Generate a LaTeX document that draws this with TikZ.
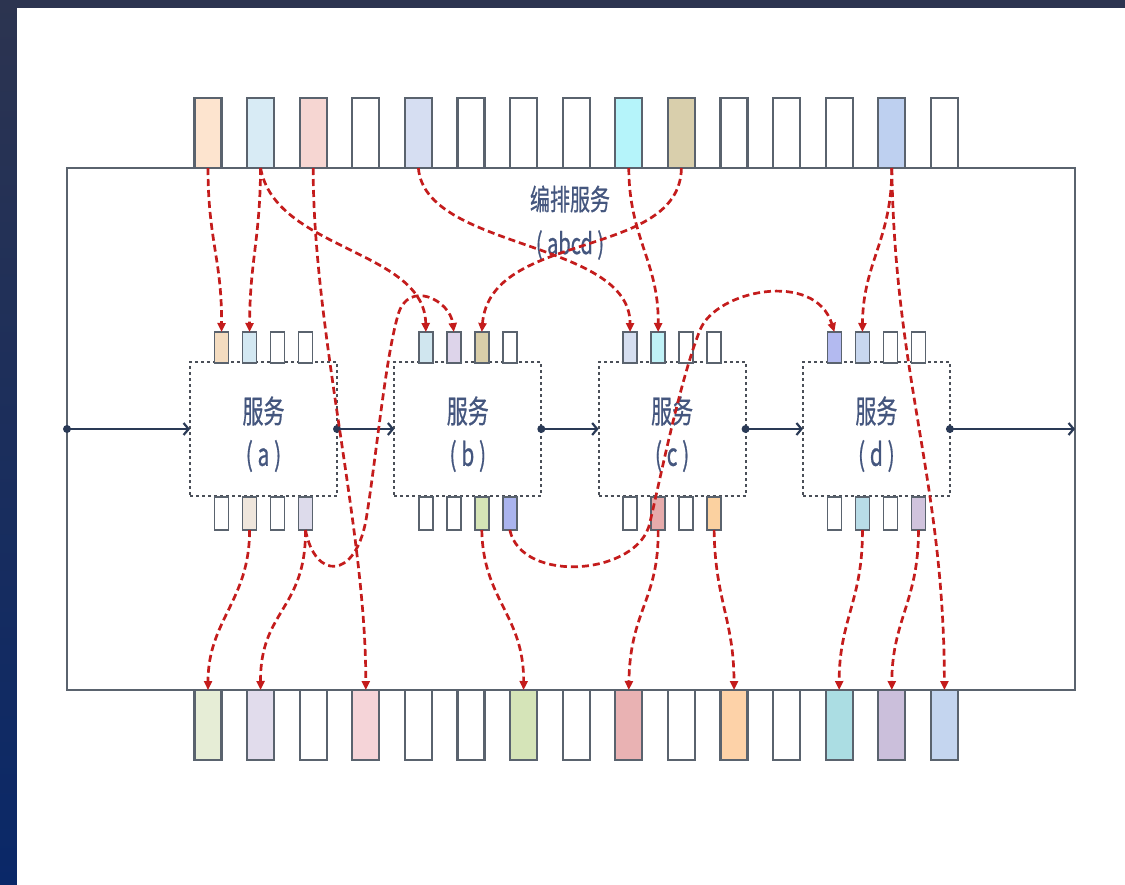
\documentclass[tikz,border=0pt]{standalone}
\usepackage{fontspec}
\usepackage{graphicx}
\newfontfamily\cjk[FakeBold=0.8]{Noto Sans CJK SC}
\usetikzlibrary{arrows.meta}
% frame / line colours
\definecolor{boxline}{HTML}{5A636E}
\definecolor{svcline}{HTML}{4A4F58}
\definecolor{frameline}{HTML}{5A636E}
\definecolor{linkred}{HTML}{C41C1C}
\definecolor{flowblue}{HTML}{2A3A56}
\definecolor{txtblue}{HTML}{44567E}
\definecolor{bgtop}{HTML}{2C3450}
\definecolor{bgbot}{HTML}{0A2868}
% top slots
\definecolor{T1c}{HTML}{FDE4CF}
\definecolor{T2c}{HTML}{D8EBF5}
\definecolor{T3c}{HTML}{F6D6D2}
\definecolor{T5c}{HTML}{D6DEF2}
\definecolor{T9c}{HTML}{B5F4FA}
\definecolor{T10c}{HTML}{D9CFAC}
\definecolor{T14c}{HTML}{BED0F0}
% bottom slots
\definecolor{B1c}{HTML}{E6EDD6}
\definecolor{B2c}{HTML}{E1DCEC}
\definecolor{B4c}{HTML}{F5D4D8}
\definecolor{B7c}{HTML}{D5E4B8}
\definecolor{B9c}{HTML}{E9B2B3}
\definecolor{B11c}{HTML}{FDD2A8}
\definecolor{B13c}{HTML}{ABDDE3}
\definecolor{B14c}{HTML}{CBBFDB}
\definecolor{B15c}{HTML}{C4D5EF}
% service ports (top P, bottom Q)
\definecolor{Pa1c}{HTML}{F4DCC0}
\definecolor{Pa2c}{HTML}{D3E8F2}
\colorlet{Pa3c}{white}
\colorlet{Pa4c}{white}
\definecolor{Pb1c}{HTML}{D0E6EF}
\definecolor{Pb2c}{HTML}{DDD4EA}
\definecolor{Pb3c}{HTML}{D9CEA9}
\colorlet{Pb4c}{white}
\definecolor{Pc1c}{HTML}{D6DFF0}
\definecolor{Pc2c}{HTML}{C0F2F7}
\colorlet{Pc3c}{white}
\colorlet{Pc4c}{white}
\definecolor{Pd1c}{HTML}{B3BAF0}
\definecolor{Pd2c}{HTML}{C8D7EF}
\colorlet{Pd3c}{white}
\colorlet{Pd4c}{white}
\colorlet{Qa1c}{white}
\definecolor{Qa2c}{HTML}{EFE6DC}
\colorlet{Qa3c}{white}
\definecolor{Qa4c}{HTML}{DDDBEB}
\colorlet{Qb1c}{white}
\colorlet{Qb2c}{white}
\definecolor{Qb3c}{HTML}{D5E4B6}
\definecolor{Qb4c}{HTML}{AAB4EE}
\colorlet{Qc1c}{white}
\definecolor{Qc2c}{HTML}{E6ABAB}
\colorlet{Qc3c}{white}
\definecolor{Qc4c}{HTML}{FBD1A0}
\colorlet{Qd1c}{white}
\definecolor{Qd2c}{HTML}{B8DCE7}
\colorlet{Qd3c}{white}
\definecolor{Qd4c}{HTML}{D0C3DD}
\begin{document}
\begin{tikzpicture}[x=1pt,y=-1pt,
  slot/.style={draw=boxline, line width=2.2pt, minimum width=27pt, minimum height=70pt, inner sep=0pt, outer sep=0pt},
  port/.style={draw=boxline, line width=1.8pt, minimum width=14pt, minimum height=31pt, inner sep=0pt, outer sep=0pt},
  bport/.style={port, minimum height=33pt},
  svc/.style={draw=svcline, line width=2pt, dash pattern=on 3pt off 3pt, minimum width=147pt, minimum height=134pt, inner sep=0pt, outer sep=0pt},
  link/.style={draw=linkred, line width=2.7pt, dash pattern=on 7pt off 4pt, -{Triangle[length=9pt,width=8pt]}},
  flow/.style={draw=flowblue, line width=2.6pt, -{Straight Barb[length=5pt,width=12pt,line width=2.2pt]}},
  lbl/.style={text=txtblue, font=\cjk\fontsize{21}{21}\selectfont, inner sep=0pt},
  tlbl/.style={text=txtblue, font=\cjk\fontsize{20}{20}\selectfont, inner sep=0pt}
]
\useasboundingbox (0,0) rectangle (1125,884);
% page border and white ground
\shade[top color=bgtop, bottom color=bgbot] (0,0) rectangle (1125,884);
\fill[white] (17,8) rectangle (1140,900);

% orchestration frame
\node[draw=frameline, line width=2pt, minimum width=1008pt, minimum height=522pt, inner sep=0pt, outer sep=0pt] (frame) at (571,429) {};

% top and bottom slots
\foreach \i/\c in {1/T1c,2/T2c,3/T3c,4/white,5/T5c,6/white,7/white,8/white,9/T9c,10/T10c,11/white,12/white,13/white,14/T14c,15/white}
  \node[slot, fill=\c] (T\i) at ({208+52.6*(\i-1)},133) {};
\foreach \i/\c in {1/B1c,2/B2c,3/white,4/B4c,5/white,6/white,7/B7c,8/white,9/B9c,10/white,11/B11c,12/white,13/B13c,14/B14c,15/B15c}
  \node[slot, fill=\c] (B\i) at ({208+52.6*(\i-1)},725) {};

% services
\foreach \s/\k in {a/0,b/1,c/2,d/3} {
  \node[svc] (S\s) at ({263.5+204.3*\k},429) {};
  \node[lbl] (N\s) at ({263.5+204.3*\k},411) {\scalebox{1}[1.5]{服务}};
  \node[lbl] (M\s) at ({263.5+204.3*\k},456) {\scalebox{1}[1.5]{( \s\ )}};
  \foreach \j/\dx in {1/-42,2/-14,3/14,4/42} {
    \node[port, fill=P\s\j c] (P\s\j) at ({263.5+204.3*\k+\dx},347.5) {};
    \node[bport, fill=Q\s\j c] (Q\s\j) at ({263.5+204.3*\k+\dx},513.5) {};
  }
}

% title
\node[tlbl] (title) at (570,199) {\scalebox{1}[1.45]{编排服务}};
\node[tlbl] (title2) at (570,245) {\scalebox{1}[1.45]{( abcd )}};

% main flow
\draw[flow] (frame.west) -- (Sa.west);
\draw[flow] (Sa.east) -- (Sb.west);
\draw[flow] (Sb.east) -- (Sc.west);
\draw[flow] (Sc.east) -- (Sd.west);
\draw[flow] (Sd.east) -- (frame.east);
\foreach \p in {frame.west, Sa.east, Sb.east, Sc.east, Sd.east}
  \fill[flowblue] (\p) circle (4pt);

% data links
\draw[link] (T1.south) .. controls (208,240) and (222,260) .. (Pa1.north);
\draw[link] (T2.south) .. controls (260,240) and (250,260) .. (Pa2.north);
\draw[link] (T2.south) .. controls (275,250) and (425,250) .. (Pb1.north);
\draw[link] (T3.south) .. controls (313,330) and (366,530) .. (B4.north);
\draw[link] (T5.south) .. controls (425,250) and (630,240) .. (Pc1.north);
\draw[link] (T9.south) .. controls (629,238) and (659,262) .. (Pc2.north);
\draw[link] (T10.south) .. controls (680,260) and (490,230) .. (Pb3.north);
\draw[link] (T14.south) .. controls (892,240) and (863,262) .. (Pd2.north);
\draw[link] (T14.south) .. controls (895,380) and (944,480) .. (B15.north);
\draw[link] (Qa2.south) .. controls (250,600) and (208,620) .. (B1.north);
\draw[link] (Qa4.south) .. controls (306,610) and (260,610) .. (B2.north);
\draw[link] (Qa4.south) .. controls (315,580) and (355,580) .. (366,520)
   .. controls (376,460) and (385,360) .. (398,315)
   .. controls (408,279) and (450,300) .. (Pb2.north);
\draw[link] (Qb3.south) .. controls (483,600) and (524,615) .. (B7.north);
\draw[link] (Qb4.south) .. controls (522,585) and (640,575) .. (650,522)
   .. controls (660,480) and (680,380) .. (700,330)
   .. controls (716,290) and (815,270) .. (Pd1.north);
\draw[link] (Qc2.south) .. controls (659,600) and (630,610) .. (B9.north);
\draw[link] (Qc4.south) .. controls (715,600) and (734,620) .. (B11.north);
\draw[link] (Qd2.south) .. controls (863,600) and (839,620) .. (B13.north);
\draw[link] (Qd4.south) .. controls (919,600) and (892,620) .. (B14.north);
\end{tikzpicture}
\end{document}
